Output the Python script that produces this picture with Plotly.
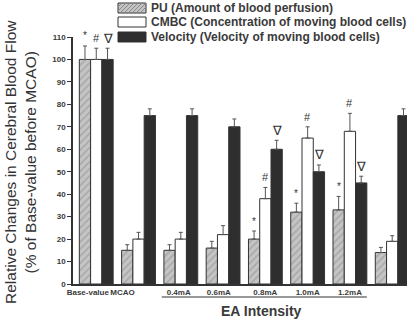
import plotly.graph_objects as go

# Data: relative cerebral blood flow (% of base value before MCAO)
categories = ["Base-value", "MCAO", "0.4mA", "0.6mA", "0.8mA", "1.0mA", "1.2mA", "After EA"]
pu_values = [100, 15, 15, 16, 20, 32, 33, 14]
pu_errors = [6, 2.5, 2.5, 3, 3.6, 4, 6, 2.3]
cmbc_values = [100, 20, 20, 22, 38, 65, 68, 19]
cmbc_errors = [5, 3, 3, 4, 5, 5, 8, 2.5]
vel_values = [100, 75, 75, 70, 60, 50, 45, 75]
vel_errors = [5, 3, 3, 3.5, 4, 3, 3, 3]

# Significance markers per group (None = no marker)
pu_marks = ["*", None, None, None, "*", "*", "*", None]
cmbc_marks = ["#", None, None, None, "#", "#", "#", None]
vel_marks = ["∇", None, None, None, "∇", "∇", "∇", None]

series_names = [
    "PU (Amount of blood perfusion)",
    "CMBC (Concentration of moving blood cells)",
    "Velocity (Velocity of moving blood cells)",
]
label_positions = [-0.2, 0.62, 1.95, 2.9, 4, 5, 6, 7.1]

W, H = 407, 320
ML, MR, MT, MB = 73, 0, 37, 36
X0, X1 = -0.55, 7.35
BARGAP = 0.2

EDGE = "#333333"
TEXT = "#3a3a3a"

x = list(range(len(categories)))


def err(vals):
    return dict(type="data", array=vals, arrayminus=[0] * len(vals), symmetric=False,
                color="#555555", thickness=1, width=2)


fig = go.Figure()
fig.add_trace(go.Bar(
    x=x, y=pu_values, name=series_names[0], error_y=err(pu_errors),
    marker=dict(color="#c4c4c4", line=dict(color=EDGE, width=1),
                pattern=dict(shape="/", fgcolor="#8a8a8a", bgcolor="#c4c4c4", size=5, solidity=0.3)),
))
fig.add_trace(go.Bar(
    x=x, y=cmbc_values, name=series_names[1], error_y=err(cmbc_errors),
    marker=dict(color="#ffffff", line=dict(color=EDGE, width=1)),
))
fig.add_trace(go.Bar(
    x=x, y=vel_values, name=series_names[2], error_y=err(vel_errors),
    marker=dict(color="#2e2e2e", line=dict(color=EDGE, width=1)),
))

# Significance symbols above the error bars
bw = (1 - BARGAP) / 3
annotations = []
for j, (vals, errs, marks) in enumerate([(pu_values, pu_errors, pu_marks),
                                          (cmbc_values, cmbc_errors, cmbc_marks),
                                          (vel_values, vel_errors, vel_marks)]):
    for i, m in enumerate(marks):
        if m is None:
            continue
        size = {"*": 10, "#": 11, "∇": 13}[m]
        annotations.append(dict(
            x=i + (j - 1) * bw, y=vals[i] + errs[i], xref="x", yref="y",
            text=m, showarrow=False, yanchor="middle", yshift=10,
            font=dict(size=size, color="#333333", family="Liberation Sans"),
        ))

PW, PH = W - ML - MR, H - MT - MB


def px(xp):
    return (xp - ML) / PW


def py(yp):
    return (H - MB - yp) / PH


# Hand-drawn legend
shapes = []
rows = [(3, 13), (17, 27), (32, 42)]
fills = ["#c4c4c4", "#ffffff", "#2e2e2e"]
sx0, sx1 = 118, 146
for (top, bot), fill, name in zip(rows, fills, series_names):
    shapes.append(dict(type="rect", xref="paper", yref="paper",
                       x0=px(sx0), x1=px(sx1), y0=py(bot), y1=py(top),
                       fillcolor=fill, line=dict(color=EDGE, width=1)))
    annotations.append(dict(x=px(149), y=py((top + bot) / 2), xref="paper", yref="paper",
                            text=f"<b>{name}</b>", showarrow=False, xanchor="left",
                            yanchor="middle", font=dict(size=12, color=TEXT,
                                                        family="Liberation Sans")))

# diagonal hatch in the PU swatch
top, bot = rows[0]
h = bot - top
step = 4
s = sx0 - h
while s < sx1:
    xa, ya = s, bot
    xb, yb = s + h, top
    if xa < sx0:
        ya = bot - (sx0 - xa)
        xa = sx0
    if xb > sx1:
        yb = top + (xb - sx1)
        xb = sx1
    if xb > xa:
        shapes.append(dict(type="line", xref="paper", yref="paper",
                           x0=px(xa), y0=py(ya), x1=px(xb), y1=py(yb),
                           line=dict(color="#8a8a8a", width=1)))
    s += step

# EA intensity bracket
shapes.append(dict(type="line", xref="x", yref="paper", x0=1.55, x1=6.4,
                   y0=py(297), y1=py(297), line=dict(color=EDGE, width=1.2)))
annotations.append(dict(x=3.9, y=py(311), xref="x", yref="paper", text="<b>EA Intensity</b>",
                        showarrow=False, yanchor="middle",
                        font=dict(size=14, color=TEXT, family="Liberation Sans")))

# Y axis title
annotations.append(dict(x=px(20), y=py(162), xref="paper", yref="paper",
                        text="Relative Changes in Cerebral Blood Flow<br>(% of Base-value before MCAO)",
                        textangle=-90, showarrow=False, xanchor="center", yanchor="middle",
                        font=dict(size=15.5, color="#333333", family="Liberation Sans")))

fig.update_layout(
    width=W, height=H,
    margin=dict(l=ML, r=MR, t=MT, b=MB, pad=0),
    paper_bgcolor="white", plot_bgcolor="white",
    barmode="group", bargap=BARGAP, bargroupgap=0,
    showlegend=False,
    annotations=annotations, shapes=shapes,
    xaxis=dict(range=[X0, X1], showline=True, linecolor=EDGE, linewidth=1.5,
               ticks="", tickmode="array", tickvals=label_positions, ticktext=categories,
               tickangle=0,
               tickfont=dict(size=8, color=TEXT, family="Liberation Sans", weight="bold"),
               showgrid=False, zeroline=False, automargin=False),
    yaxis=dict(range=[0, 110], dtick=10, showline=True, linecolor=EDGE, linewidth=1.5,
               ticks="outside", ticklen=4, tickwidth=1.2, tickcolor=EDGE,
               tickfont=dict(size=8, color=TEXT, family="Liberation Sans", weight="bold"),
               showgrid=False, zeroline=False, automargin=False),
)

fig.write_html("out.html")
